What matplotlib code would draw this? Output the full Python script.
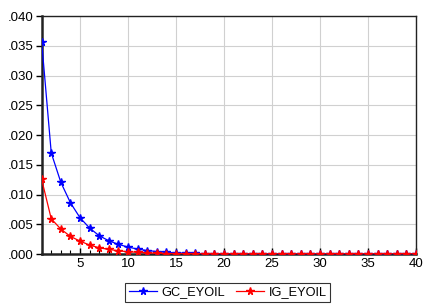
import numpy as np
import matplotlib
matplotlib.use("Agg")
import matplotlib.pyplot as plt
from matplotlib.ticker import FuncFormatter

# response horizon
periods = list(range(1, 41))

gc_eyoil = [0.0357, 0.0170, 0.01205, 0.00862, 0.0061, 0.00437, 0.00308, 0.00224,
            0.00163, 0.00118, 0.00084, 0.0006, 0.00043, 0.0003, 0.00022, 0.00016,
            0.00011, 0.00008, 0.00006, 0.00004, 0.00003, 0.00002, 0.000015, 0.00001,
            0.00001, 0.00001, 0.00001, 0.00001, 0.00001, 0.00001, 0.00001, 0.00001,
            0.00001, 0.00001, 0.00001, 0.00001, 0.00001, 0.00001, 0.00001, 0.00001]
ig_eyoil = [0.01255, 0.00593, 0.0042, 0.00297, 0.00218, 0.00151, 0.00106, 0.00079,
            0.00055, 0.0004, 0.0003, 0.00021, 0.00015, 0.0001, 0.00007, 0.00005,
            0.00004, 0.00003, 0.00002, 0.00002, 0.00001, 0.00001, 0.00001, 0.00001,
            0.00001, 0.00001, 0.00001, 0.00001, 0.00001, 0.00001, 0.00001, 0.00001,
            0.00001, 0.00001, 0.00001, 0.00001, 0.00001, 0.00001, 0.00001, 0.00001]

xticks = [5, 10, 15, 20, 25, 30, 35, 40]
yticks = [0.0, 0.005, 0.010, 0.015, 0.020, 0.025, 0.030, 0.035, 0.040]

plt.rcParams['font.family'] = ['Liberation Sans', 'DejaVu Sans']
plt.rcParams['font.size'] = 9.5

fig = plt.figure(figsize=(4.25, 3.08), dpi=100)
ax = fig.add_axes([0.098, 0.175, 0.881, 0.773])

ax.plot(periods, gc_eyoil, color='#0000ff', lw=0.9, marker='*', ms=5.5,
        label='GC_EYOIL', zorder=3)
ax.plot(periods, ig_eyoil, color='#ff0000', lw=0.9, marker='*', ms=5.5,
        label='IG_EYOIL', zorder=3)

ax.set_xlim(1, 40)
ax.set_ylim(0, 0.040)
ax.set_xticks(xticks)
ax.set_xticks(periods, minor=True)
ax.set_yticks(yticks)
ax.yaxis.set_major_formatter(FuncFormatter(lambda v, p: ('%.3f' % v)[1:]))

ax.grid(True, which='major', color='#d0d0d0', lw=0.8)
ax.set_axisbelow(True)
ax.tick_params(axis='y', direction='out', length=4, width=1, pad=2)
ax.tick_params(axis='x', which='major', direction='in', length=4, width=1, pad=3)
ax.tick_params(axis='x', which='minor', direction='in', length=3, width=0.8)
for s in ax.spines.values():
    s.set_color('#222222')
    s.set_linewidth(1.0)
ax.spines['left'].set_linewidth(1.8)
ax.spines['bottom'].set_linewidth(1.8)

leg = fig.legend(loc='lower center', bbox_to_anchor=(0.536, 0.0), ncol=2,
                 frameon=True, fancybox=False, edgecolor='black',
                 handlelength=2.2, columnspacing=0.9, borderpad=0.25,
                 handletextpad=0.35, fontsize=9.2)
leg.get_frame().set_linewidth(0.8)

fig.savefig('out.png', dpi=100)
